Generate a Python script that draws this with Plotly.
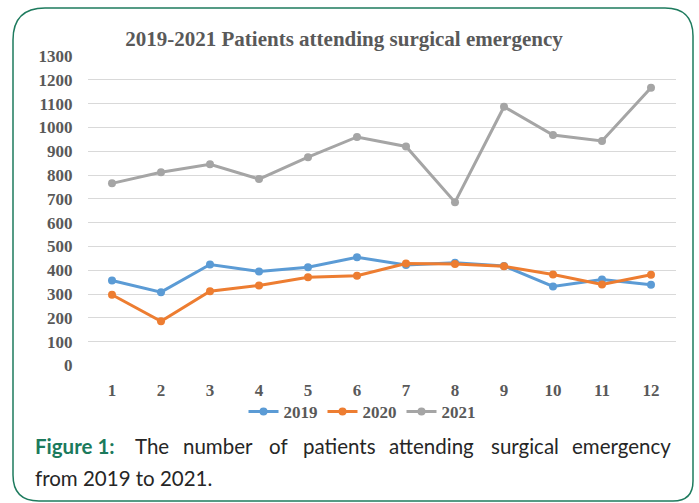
import plotly.graph_objects as go

W, H = 699, 503

months = ["1", "2", "3", "4", "5", "6", "7", "8", "9", "10", "11", "12"]
y2019 = [357, 308, 424, 395, 413, 455, 422, 432, 418, 332, 361, 339]
y2020 = [297, 186, 312, 336, 371, 377, 428, 426, 417, 382, 340, 381]
y2021 = [765, 812, 845, 783, 875, 960, 920, 686, 1087, 968, 943, 1167]
series_names = ["2019", "2020", "2021"]
series_colors = ["#5B9BD5", "#ED7D31", "#A5A5A5"]

title_text = "2019-2021 Patients attending surgical emergency"
caption_line1 = ["The", "number", "of", "patients", "attending", "surgical", "emergency"]
caption_line2 = "from 2019 to 2021."


def px(x):
    return x / W


def py(y):
    return 1 - y / H


fig = go.Figure()
for name, vals, col in zip(series_names, [y2019, y2020, y2021], series_colors):
    fig.add_trace(go.Scatter(
        x=months, y=vals, name=name, mode="lines+markers",
        line=dict(color=col, width=3),
        marker=dict(color=col, size=8),
    ))

tickfont = dict(family="Liberation Serif", size=17, color="#595959", weight="bold")

fig.update_layout(
    width=W, height=H,
    margin=dict(l=0, r=0, t=0, b=0, autoexpand=False),
    paper_bgcolor="white", plot_bgcolor="white",
    showlegend=True,
    title=dict(text=title_text, x=px(344), y=py(39), xanchor="center", yanchor="middle",
               font=dict(family="Liberation Serif", size=21, color="#595959", weight="bold")),
    xaxis=dict(type="category", categoryorder="array", categoryarray=months,
               range=[-0.5, 11.5], domain=[px(87.5), px(675.5)],
               showgrid=False, zeroline=False, showline=False, ticks="",
               tickfont=tickfont, ticklabelstandoff=12),
    yaxis=dict(range=[0, 1300], dtick=100, domain=[py(365.5), py(56)],
               showgrid=True, gridcolor="#D9D9D9", gridwidth=1.3,
               zeroline=False, showline=False, ticks="",
               tickfont=tickfont, ticklabelstandoff=14),
    legend=dict(orientation="h", x=px(362), y=py(412), xanchor="center", yanchor="middle",
                font=dict(family="Liberation Serif", size=17, color="#595959", weight="bold"),
                bgcolor="rgba(0,0,0,0)", itemwidth=30, tracegroupgap=0),
)

# Rounded frame
L, T, R, B = 13, 8, 693, 501
rtl, rtr, rbr, rbl = 32, 28, 20, 26
path = (
    f"M {px(L)},{py(T + rtl)} Q {px(L)},{py(T)} {px(L + rtl)},{py(T)} "
    f"L {px(R - rtr)},{py(T)} Q {px(R)},{py(T)} {px(R)},{py(T + rtr)} "
    f"L {px(R)},{py(B - rbr)} Q {px(R)},{py(B)} {px(R - rbr)},{py(B)} "
    f"L {px(L + rbl)},{py(B)} Q {px(L)},{py(B)} {px(L)},{py(B - rbl)} Z"
)
fig.add_shape(type="path", path=path, xref="paper", yref="paper",
              line=dict(color="#1E7B5E", width=1.5), layer="below")

# Caption
cap_font = dict(family="Lato", size=20.5, color="#262626")
fig.add_annotation(text="<b>Figure 1:</b>", x=px(33), y=py(446), xref="paper", yref="paper",
                   xanchor="left", yanchor="middle", showarrow=False,
                   font=dict(family="Lato", size=20.5, color="#1B7A5C"))
word_x = [133, 181, 267, 301, 387, 489, 673]
for i, (w, xx) in enumerate(zip(caption_line1, word_x)):
    fig.add_annotation(text=w, x=px(xx), y=py(446), xref="paper", yref="paper",
                       xanchor="right" if i == len(caption_line1) - 1 else "left",
                       yanchor="middle", showarrow=False, font=cap_font)
fig.add_annotation(text=caption_line2, x=px(33), y=py(478), xref="paper", yref="paper",
                   xanchor="left", yanchor="middle", showarrow=False, font=cap_font)

fig.write_html("out.html", config={"displayModeBar": False},
               post_script="document.body.style.margin='0px';")
